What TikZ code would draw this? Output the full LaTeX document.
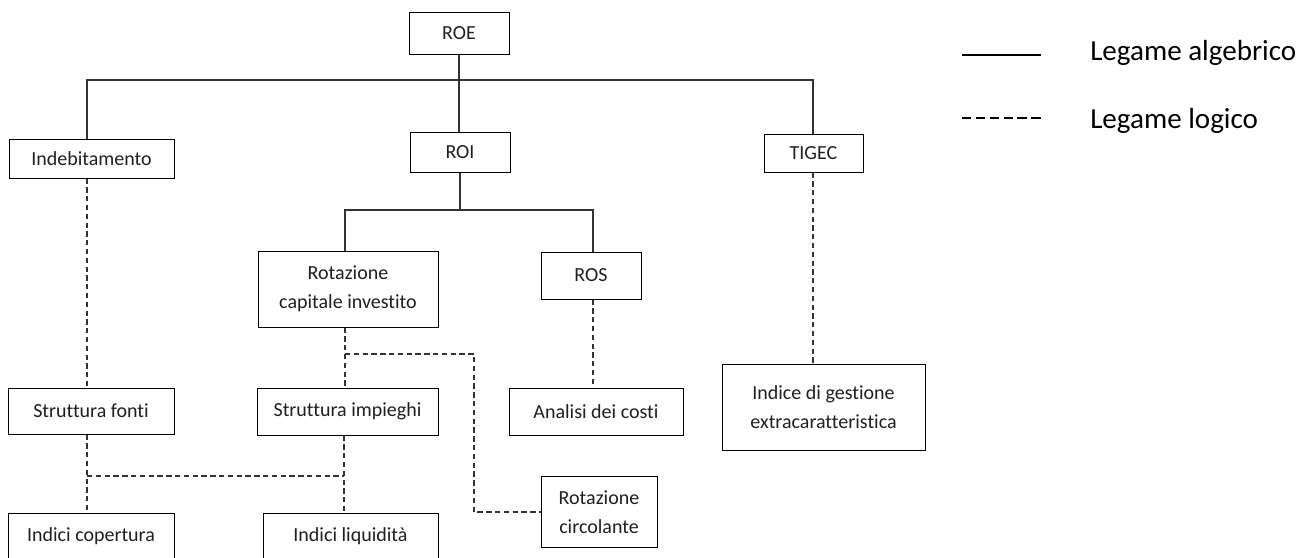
\documentclass[tikz,border=0pt]{standalone}
\usepackage{fontspec}
\setmainfont{Carlito}[Ligatures={NoCommon}]
\begin{document}
\begin{tikzpicture}[x=0.75pt,y=-0.75pt,
  box/.style 2 args={draw=black, line width=0.75pt, minimum width=#1*0.75pt, minimum height=#2*0.75pt, inner sep=0pt, align=center, font=\fontsize{15}{21.75}\selectfont, text=black!88},
  alg/.style={line width=0.9pt, draw=black!80},
  logi/.style={line width=0.9pt, draw=black!80, dash pattern=on 4pt off 2.6pt},
  legtext/.style={anchor=base west, font=\fontsize{21.8}{26}\selectfont, inner sep=0pt, text=black}]
\useasboundingbox (0,0) rectangle (1312,557);
\clip (0,0) rectangle (1312,557);
% nodes
\node[box={100}{42}] (ROE) at (459,33) {ROE};
\node[box={100}{40}] (ROI) at (460,152) {ROI};
\node[box={165}{39}] (Indeb) at (91.5,158.5) {Indebitamento};
\node[box={99}{38}] (TIGEC) at (813.5,153) {TIGEC};
\node[box={180}{76}] (RotCap) at (348,289) {Rotazione\\capitale investito};
\node[box={100}{47}] (ROS) at (591,275.5) {ROS};
\node[box={166}{46}] (StrFonti) at (91,411) {Struttura fonti};
\node[box={181}{47}] (StrImp) at (347.5,411.5) {Struttura impieghi};
\node[box={174}{47}] (Analisi) at (596,411.5) {Analisi dei costi};
\node[box={203}{86}] (IGE) at (823.5,407) {Indice di gestione\\extracaratteristica};
\node[box={116}{71}] (RotCirc) at (599,512) {Rotazione\\circolante};
\node[box={166}{46}] (IndCop) at (91,536) {Indici copertura};
\node[box={175}{46}] (IndLiq) at (350.5,536) {Indici liquidità};
% algebraic links
\coordinate (bar) at (459,80);
\draw[alg] (ROE.south) -- (ROE.south |- ROI.north);
\draw[alg] (Indeb.north -| 87,0) |- (bar) -| (TIGEC.north -| 813,0);
\coordinate (roibar) at (460,210);
\draw[alg] (ROI.south) -- (roibar);
\draw[alg] (RotCap.north -| 345,0) |- (roibar) -| (ROS.north -| 593,0);
% logical links
\draw[logi] (Indeb.south -| 87,0) -- (StrFonti.north -| 87,0);
\draw[logi] (RotCap.south -| 345,0) -- (StrImp.north -| 345,0);
\coordinate (rc1) at (345,354);
\draw[logi] (rc1) -| (RotCirc.west -| 474,0) -- (RotCirc.west);
\draw[logi] (StrFonti.south -| 87,0) -- (IndCop.north -| 87,0);
\draw[logi] (StrImp.south -| 344,0) -- (IndLiq.north -| 344,0);
\coordinate (sf1) at (87,476);
\draw[logi] (sf1) -- (sf1 -| 344,0);
\draw[logi] (ROS.south -| 593,0) -- (Analisi.north -| 593,0);
\draw[logi] (TIGEC.south -| 813,0) -- (IGE.north -| 813,0);
% legend
\coordinate (la1) at (962,55);
\coordinate (la2) at (1041,55);
\draw[line width=1.5pt, black] (la1) -- (la2);
\node[legtext] (lt1) at (1090,60) {Legame algebrico};
\coordinate (ll1) at (962,118);
\coordinate (ll2) at (1041,118);
\draw[line width=0.9pt, black, dash pattern=on 7pt off 3.4pt] (ll1) -- (ll2);
\node[legtext] (lt2) at (1090,128) {Legame logico};
\end{tikzpicture}
\end{document}
